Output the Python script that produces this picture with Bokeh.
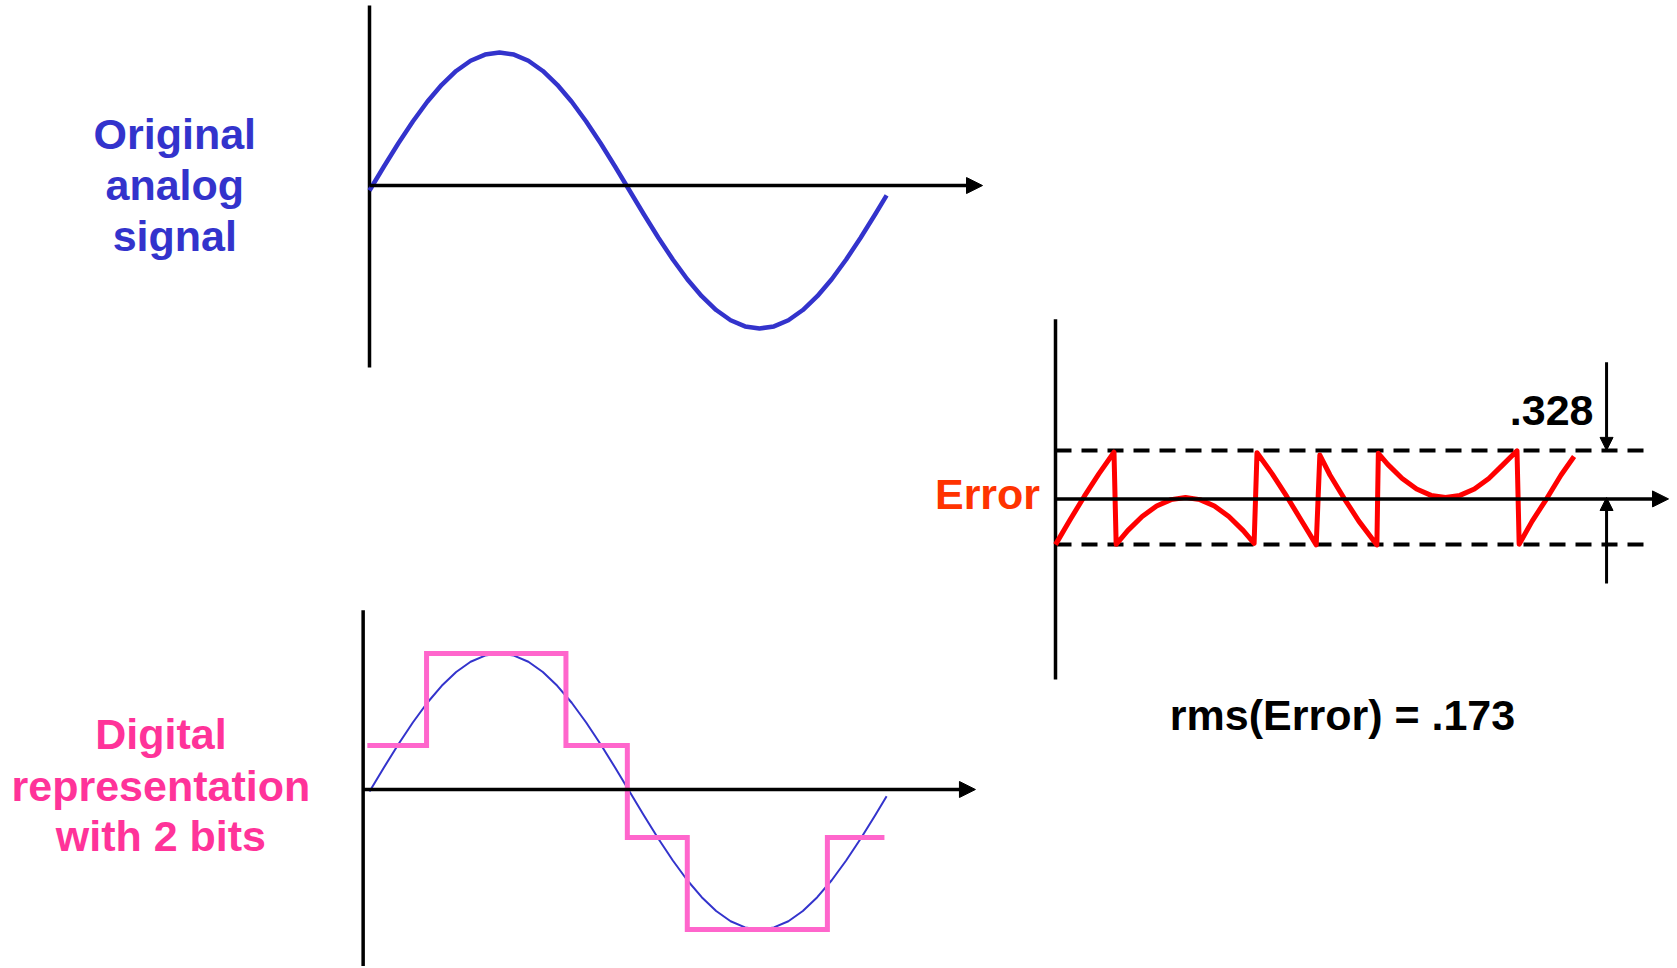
from bokeh.plotting import figure
from bokeh.models import Range1d, Arrow, NormalHead
from bokeh.embed import file_html
from bokeh.resources import INLINE
from bokeh.core.properties import value

# ---------------- data ----------------
# phase of the analog signal, degrees, and its amplitude
phase_deg = [0, 10, 20, 30, 40, 50, 60, 70, 80, 90,
             100, 110, 120, 130, 140, 150, 160, 170, 180,
             190, 200, 210, 220, 230, 240, 250, 260, 270,
             280, 290, 300, 310, 320, 330, 340, 350, 358]
signal = [0.000, 0.174, 0.342, 0.500, 0.643, 0.766, 0.866, 0.940, 0.985, 1.000,
          0.985, 0.940, 0.866, 0.766, 0.643, 0.500, 0.342, 0.174, 0.000,
          -0.174, -0.342, -0.500, -0.643, -0.766, -0.866, -0.940, -0.985, -1.000,
          -0.985, -0.940, -0.866, -0.766, -0.643, -0.500, -0.342, -0.174, -0.035]

# 2-bit digital representation (step starts, degrees, and levels)
step_deg = [-1.5, 39.5, 136.0, 178.5, 220.0, 317.0, 356.5]
step_level = [0.333, 1.000, 0.333, -0.333, -1.000, -0.333, -0.333]

# quantization error
err_deg = [0, 10, 20, 30, 40.5,
           42, 50, 60, 70, 80, 90, 100, 110, 120, 130, 137.5,
           139.5, 150, 160, 170, 180.5,
           183, 190, 200, 210, 222.5,
           223.5, 230, 240, 250, 260, 270, 280, 290, 300, 310, 319.5,
           321, 330, 340, 350, 359]
err_val = [-0.333, -0.159, 0.009, 0.167, 0.320,
           -0.331, -0.234, -0.134, -0.060, -0.015, 0.000, -0.015, -0.060, -0.134, -0.234, -0.324,
           0.316, 0.167, 0.009, -0.159, -0.335,
           0.300, 0.159, -0.009, -0.167, -0.335,
           0.312, 0.234, 0.134, 0.060, 0.015, 0.000, 0.015, 0.060, 0.134, 0.234, 0.330,
           -0.330, -0.167, -0.009, 0.159, 0.290]
err_bound = 0.333

label_signal = ["Original", "analog", "signal"]
label_digital = ["Digital", "representation", "with 2 bits"]
label_error = "Error"
label_peak = ".328"
label_rms = "rms(Error) = .173"

# ---------------- layout ----------------
W, H = 1675, 966
OX, OY = 0, 0
FONT = value("Liberation Sans")

p = figure(width=W, height=H,
           x_range=Range1d(OX, OX + W), y_range=Range1d(OY + H, OY),
           output_backend="svg", toolbar_location=None, min_border=0,
           x_axis_location=None, y_axis_location=None,
           outline_line_color=None, background_fill_color="white",
           border_fill_color="white")
p.grid.grid_line_color = None

SX = 520.0 / 360.0  # px per degree
panels = {
    "top": (369.0, 190.0, SX, 138.0),
    "bot": (369.0, 791.0, SX, 138.0),
    "err": (1055.0, 497.0, SX, 141.5),
}
xr, yr = {}, {}
for name, (x0, y0, sx, sy) in panels.items():
    xr[name] = Range1d((OX - x0) / sx, (OX + W - x0) / sx)
    yr[name] = Range1d((y0 - (OY + H)) / sy, (y0 - OY) / sy)
p.extra_x_ranges = xr
p.extra_y_ranges = yr


def rn(name):
    return dict(x_range_name=name, y_range_name=name)


def axes(name, vx, vtop, vbot, hy, htip):
    p.line([vx, vx], [vtop, vbot], line_color="black", line_width=3.5, **rn(name))
    p.add_layout(Arrow(end=NormalHead(size=16, fill_color="black", line_color="black", line_width=1),
                       x_start=vx, y_start=hy, x_end=htip, y_end=hy,
                       line_color="black", line_width=3.5, **rn(name)))


# top panel: original analog signal
axes("top", 0.0, 1.34, -1.283, 0.036, 424.4)
p.line(phase_deg, signal, line_color="#3333CC", line_width=4.5, line_join="round", **rn("top"))

# bottom panel: digital representation
axes("bot", -4.4, 1.314, -1.5, 0.0145, 419.5)
p.line(phase_deg, signal, line_color="#3333CC", line_width=2, line_join="round", **rn("bot"))
p.step(step_deg, step_level, mode="after", line_color="#FF66CC", line_width=5,
       line_join="miter", **rn("bot"))

# error panel
axes("err", 0.0, 1.26, -1.286, -0.01, 424.4)
for lvl in (err_bound, -err_bound):
    p.line([0, 410], [lvl, lvl], line_color="black", line_width=4, line_dash="16 10", **rn("err"))
p.line(err_deg, err_val, line_color="#FF0000", line_width=5, line_join="round", **rn("err"))

# dimension arrows
p.add_layout(Arrow(end=NormalHead(size=13, fill_color="black", line_color="black", line_width=1),
                   x_start=381.5, y_start=0.956, x_end=381.5, y_end=err_bound,
                   line_color="black", line_width=3, **rn("err")))
p.add_layout(Arrow(end=NormalHead(size=13, fill_color="black", line_color="black", line_width=1),
                   x_start=381.5, y_start=-0.608, x_end=381.5, y_end=0.0,
                   line_color="black", line_width=3, **rn("err")))

# texts
common = dict(text_font=FONT, text_font_style="bold", text_font_size="43px",
              text_baseline="middle")
p.text(x=[174.3] * 3, y=[133.7, 184.0, 235.3], text=label_signal,
       text_align="center", text_color="#3333CC", **common)
p.text(x=[160.4] * 3, y=[733.7, 785.0, 835.3], text=label_digital,
       text_align="center", text_color="#FF3399", **common)
p.text(x=[1039.6], y=[493.0], text=[label_error], text_align="right",
       text_color="#FF3300", **common)
p.text(x=[1593.0], y=[410.0], text=[label_peak], text_align="right",
       text_color="black", **common)
p.text(x=[1342.0], y=[714.4], text=[label_rms], text_align="center",
       text_color="black", **common)

open("out.html", "w").write(file_html(p, INLINE))
